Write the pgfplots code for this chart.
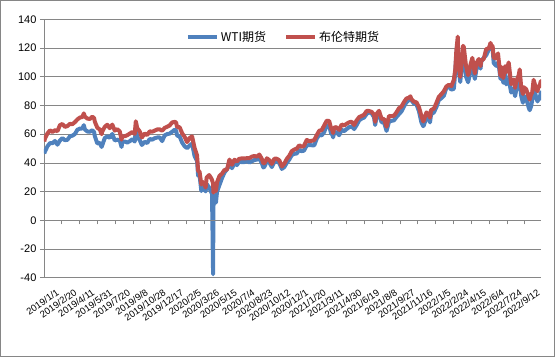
\documentclass[border=0pt]{standalone}
\usepackage{pgfplots}
\pgfplotsset{compat=1.18}
\usepackage{pgfplotstable}
\usepackage{fontspec}
\setmainfont{Liberation Sans}
\newfontfamily\cjk{Noto Sans CJK SC}
\definecolor{wti}{RGB}{79,129,189}
\definecolor{brent}{RGB}{192,80,77}
\definecolor{gridgray}{RGB}{134,134,134}
\pgfplotstableread{
x wti brent
1 46.5 54.9
3 48.0 57.1
10 51.6 60.5
17 53.8 62.7
24 53.7 61.6
31 55.3 62.8
38 52.7 62.1
45 55.6 66.3
52 57.3 67.1
59 55.8 65.1
66 56.1 65.7
73 58.5 67.2
80 59.0 67.0
87 60.1 68.4
94 63.1 70.3
101 63.9 71.6
108 64.0 72.0
112 66.3 74.5
115 63.3 72.2
122 61.9 70.9
129 61.7 70.6
136 62.8 72.2
141 61.4 71.2
143 58.6 68.7
150 53.5 64.5
157 54.0 63.3
162 51.1 60.0
164 52.5 62.0
171 57.4 65.2
178 58.5 66.6
185 57.5 64.2
192 60.2 66.7
199 55.6 62.5
206 56.2 63.5
213 55.7 61.9
218 51.1 56.2
220 54.5 58.5
227 54.9 58.6
234 54.2 59.3
241 55.1 60.4
248 56.5 61.5
255 54.9 60.2
258 62.9 69.0
262 58.1 64.3
269 55.9 61.9
275 52.5 57.7
283 54.7 60.5
290 53.8 59.4
297 56.7 62.0
304 56.2 61.7
311 57.2 62.5
318 57.7 63.3
325 57.8 63.4
332 55.2 62.4
339 59.2 64.4
346 60.1 65.2
353 60.4 66.1
360 61.7 68.2
367 63.1 68.6
371 62.7 68.3
374 59.0 65.0
381 58.5 64.9
388 54.2 60.7
395 51.6 58.2
402 50.3 54.5
409 52.1 57.3
416 53.4 58.5
423 44.8 50.5
430 41.3 45.3
433 31.1 34.4
437 31.7 33.9
442 20.4 24.9
444 22.4 27.0
451 21.5 24.9
454 20.1 22.8
457 25.3 29.9
464 22.8 31.5
469 20.1 29.6
472 18.3 28.1
475 -37.6 25.6
476 10.0 19.3
479 16.9 21.4
483 12.3 20.5
486 19.8 26.4
493 24.7 31.0
500 29.4 32.5
507 33.3 35.1
514 35.5 35.3
521 39.6 42.3
528 36.3 38.7
535 39.8 42.2
542 38.5 41.0
548 40.7 42.8
556 40.6 43.2
563 40.6 43.1
570 41.3 43.3
577 40.3 43.3
584 41.2 44.4
591 42.0 44.8
598 42.3 44.4
605 43.0 45.8
612 39.8 42.7
616 36.8 39.8
619 37.3 39.8
626 41.1 43.2
633 40.3 41.9
640 37.1 39.3
647 40.6 42.9
654 40.9 42.9
661 39.9 41.8
668 35.8 37.5
675 37.1 39.5
682 40.1 42.8
689 42.4 45.0
696 45.5 48.2
703 46.3 49.3
710 46.6 50.0
717 49.1 52.3
723 48.2 51.3
730 48.5 51.8
738 52.2 56.0
745 52.4 55.1
752 52.3 55.4
759 52.2 55.9
766 56.9 59.3
773 59.5 62.4
780 59.2 62.9
787 61.5 66.1
794 66.1 69.4
801 65.6 69.2
807 60.0 63.3
808 61.4 64.5
812 57.8 60.8
815 61.0 64.6
821 61.5 64.9
829 59.3 63.0
836 63.1 66.8
843 62.1 66.1
850 63.6 67.3
857 64.9 68.3
864 65.4 68.7
871 63.6 66.4
878 66.3 69.6
885 69.6 71.9
892 70.9 72.7
899 71.6 73.5
906 74.1 76.2
912 75.2 76.2
920 74.6 75.6
927 71.8 73.6
930 66.4 68.6
934 72.1 74.1
941 74.0 76.3
948 68.3 70.7
955 68.4 70.6
962 62.3 65.2
969 68.7 72.7
976 69.3 72.6
983 69.7 72.9
990 72.0 75.3
997 74.0 78.1
1004 75.9 79.3
1011 79.4 82.4
1018 82.3 84.9
1025 83.8 85.5
1029 84.7 86.4
1032 83.6 84.4
1039 81.3 82.7
1046 80.8 82.2
1053 76.1 78.9
1060 68.2 72.7
1065 65.6 68.9
1067 66.3 69.9
1074 71.7 75.2
1081 70.9 73.5
1084 68.2 71.5
1087 73.8 76.9
1095 75.2 77.8
1102 78.9 81.8
1109 83.8 86.1
1116 85.1 87.9
1123 86.8 90.0
1130 92.3 93.3
1137 93.1 94.4
1144 91.1 93.5
1151 91.6 97.9
1155 103.4 105.0
1158 115.7 118.1
1162 123.7 128.0
1164 106.0 109.3
1169 96.4 99.9
1172 104.7 107.9
1177 114.9 121.6
1179 113.9 120.7
1185 100.3 107.9
1191 96.2 101.1
1193 98.3 102.8
1198 104.3 108.8
1203 108.2 113.2
1207 102.1 106.7
1210 98.5 102.3
1214 104.7 109.3
1221 109.8 112.4
1226 105.7 107.5
1228 110.5 111.6
1232 112.4 111.9
1235 113.2 112.6
1242 115.1 119.4
1249 118.9 119.7
1254 122.1 123.6
1256 120.7 122.0
1260 118.9 121.2
1263 109.6 113.1
1270 107.6 113.1
1275 110.0 116.3
1277 108.4 111.6
1282 98.5 100.7
1284 104.8 107.0
1290 95.8 99.1
1295 104.2 107.4
1298 94.7 103.2
1305 98.6 110.0
1312 89.0 94.9
1319 92.1 98.2
1323 86.5 92.3
1326 90.8 96.7
1333 93.1 101.0
1336 97.0 105.1
1340 86.9 93.0
1345 81.9 88.0
1347 86.8 92.8
1354 85.1 91.4
1361 78.7 86.2
1364 76.7 84.1
1368 79.5 88.0
1371 83.6 88.9
1375 92.6 97.9
1379 89.4 94.3
1382 85.6 91.6
1386 82.8 90.0
1389 85.1 93.5
1392 84.6 93.3
1395 89.1 97.0
1396 87.9 95.8
}\oil
\begin{document}
\begin{tikzpicture}
\begin{axis}[
 scale only axis, width=497pt, height=258.2pt,
 xmin=0, xmax=1396, ymin=-40, ymax=140,
 axis y line*=left, axis x line*=bottom,
 x axis line style={draw=none},
 y axis line style={draw=gridgray, line width=0.8pt},
 ytick={-40,-20,...,140},
 yticklabels={-40,-20,0,20,40,60,80,100,120,140},
 ymajorgrids, grid style={gridgray, line width=0.8pt},
 ytick style={draw=gridgray, line width=0.8pt},
 tick align=outside, major tick length=4pt,
 xtick={0,50,...,1350},
 xticklabels={2019/1/1,2019/2/20,2019/4/11,2019/5/31,2019/7/20,2019/9/8,2019/10/28,2019/12/17,2020/2/5,2020/3/26,2020/5/15,2020/7/4,2020/8/23,2020/10/12,2020/12/1,2021/1/20,2021/3/11,2021/4/30,2021/6/19,2021/8/8,2021/9/27,2021/11/16,2022/1/5,2022/2/24,2022/4/15,2022/6/4,2022/7/24,2022/9/12},
 xtick style={draw=none},
 xticklabel style={rotate=35, anchor=north east, font=\fontsize{9.5}{9.5}\selectfont, xshift=6pt, yshift=-12pt, inner sep=0pt},
 yticklabel style={font=\fontsize{11}{12}\selectfont},
 legend style={at={(0.482,0.932)}, anchor=center, draw=none, fill=none, font=\cjk\fontsize{12}{14}\selectfont, /tikz/every even column/.append style={column sep=16pt}},
 legend columns=2,
 legend image code/.code={\draw[#1] (0pt,0pt) -- (29pt,0pt);},
]
\addplot[wti, line width=4pt, line join=round] table[x=x, y=wti] {\oil};
\addlegendentry{WTI期货}
\addplot[brent, line width=4pt, line join=round] table[x=x, y=brent] {\oil};
\addlegendentry{布伦特期货}
\end{axis}
\begin{axis}[
 scale only axis, width=497pt, height=258.2pt,
 xmin=0, xmax=1396, ymin=-40, ymax=140,
 axis x line=middle, axis y line=none,
 xtick={0,50,...,1350}, xticklabels={},
 x axis line style={draw=gridgray, line width=0.8pt, -},
 xtick style={draw=gridgray, line width=0.8pt},
 tick align=outside, major tick length=4pt,
]
\end{axis}
\draw[gridgray, line width=0.8pt] (-43.5pt,-78.8pt) rectangle (510.5pt,277.2pt);
\end{tikzpicture}
\end{document}
